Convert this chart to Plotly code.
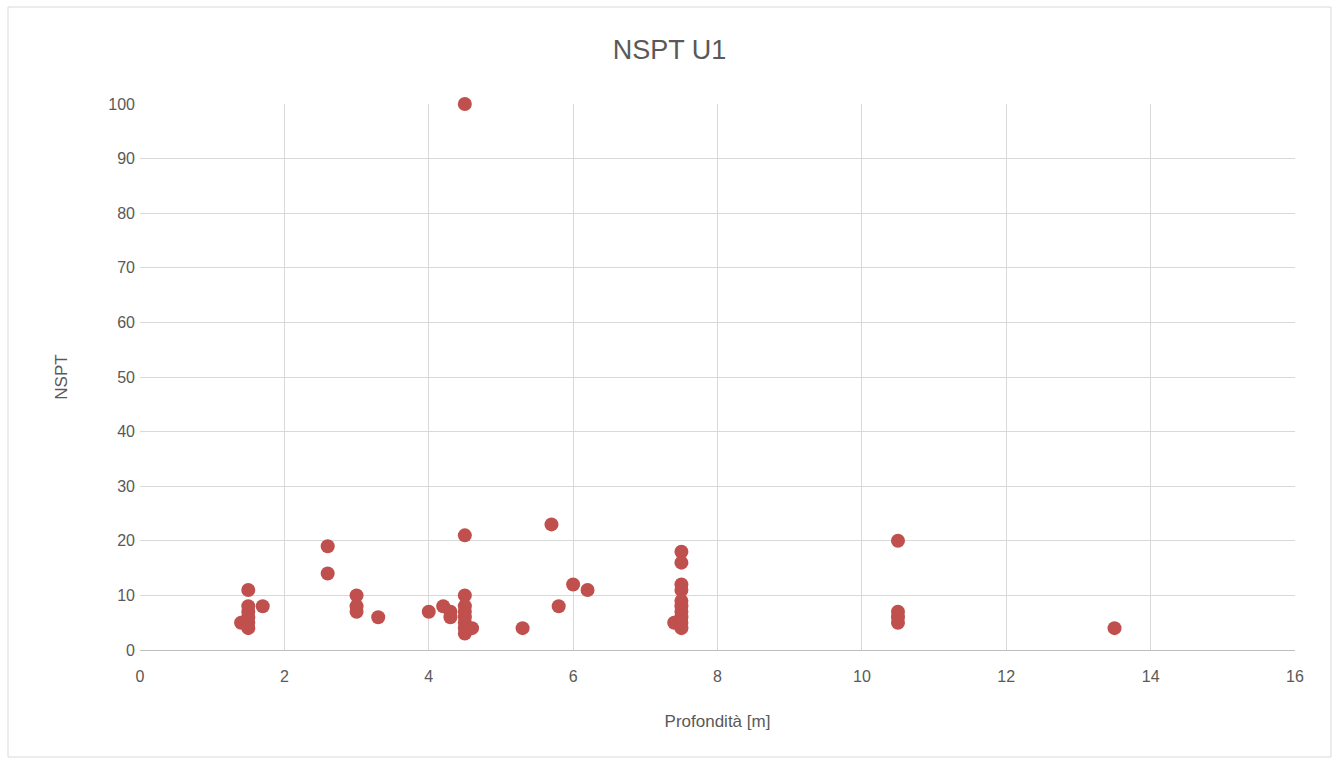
import plotly.graph_objects as go

depth = [1.5, 1.5, 1.5, 1.5, 1.5, 1.5, 1.4, 1.7,
         2.6, 2.6,
         3.0, 3.0, 3.0, 3.3,
         4.0, 4.2, 4.3, 4.3,
         4.5, 4.5, 4.5, 4.5, 4.5, 4.5, 4.5, 4.5, 4.5, 4.6,
         5.3, 5.7, 5.8, 6.0, 6.2,
         7.4, 7.5, 7.5, 7.5, 7.5, 7.5, 7.5, 7.5, 7.5, 7.5, 7.5,
         10.5, 10.5, 10.5, 10.5,
         13.5]
nspt = [11, 8, 7, 6, 5, 4, 5, 8,
        19, 14,
        10, 8, 7, 6,
        7, 8, 7, 6,
        100, 21, 10, 8, 7, 6, 5, 4, 3, 4,
        4, 23, 8, 12, 11,
        5, 18, 16, 12, 11, 9, 8, 7, 6, 5, 4,
        20, 7, 6, 5,
        4]

x_ticks = list(range(0, 17, 2))
y_ticks = list(range(0, 101, 10))

fig = go.Figure()
fig.add_trace(go.Scatter(x=depth, y=nspt, mode="markers", cliponaxis=False,
                         marker=dict(color="#C0504D", size=14, line=dict(width=0)),
                         showlegend=False))

W, H = 1339, 763
L, R, T, B = 140, 44, 104, 113
pw, ph = W - L - R, H - T - B

fig.update_layout(
    width=W, height=H,
    margin=dict(l=L, r=R, t=T, b=B),
    paper_bgcolor="white", plot_bgcolor="white",
    font=dict(family="Liberation Sans, Arial", color="#595959", size=16),
    title=dict(text="NSPT U1", x=0.5, xanchor="center", y=1 - 50 / H, yanchor="middle",
               font=dict(size=27, color="#595959")),
    xaxis=dict(range=[0, 16], tickvals=x_ticks, showgrid=True, gridcolor="#d9d9d9",
               zeroline=False, showline=True, linecolor="#bfbfbf", ticks="",
               ticklabelstandoff=12,
               title=dict(text="Profondità [m]", font=dict(size=17), standoff=30)),
    yaxis=dict(range=[0, 100], tickvals=y_ticks, showgrid=True, gridcolor="#d9d9d9",
               zeroline=False, showline=False, ticks="",
               ticklabelstandoff=4,
               title=dict(text="NSPT", font=dict(size=17), standoff=36)),
    shapes=[dict(type="rect", xref="paper", yref="paper",
                 x0=(8 - L) / pw, x1=(1331 - L) / pw,
                 y0=(H - B - 757) / ph, y1=(H - B - 7) / ph,
                 line=dict(color="#d9d9d9", width=1), fillcolor="rgba(0,0,0,0)", layer="below")],
)

fig.write_html("out.html")
